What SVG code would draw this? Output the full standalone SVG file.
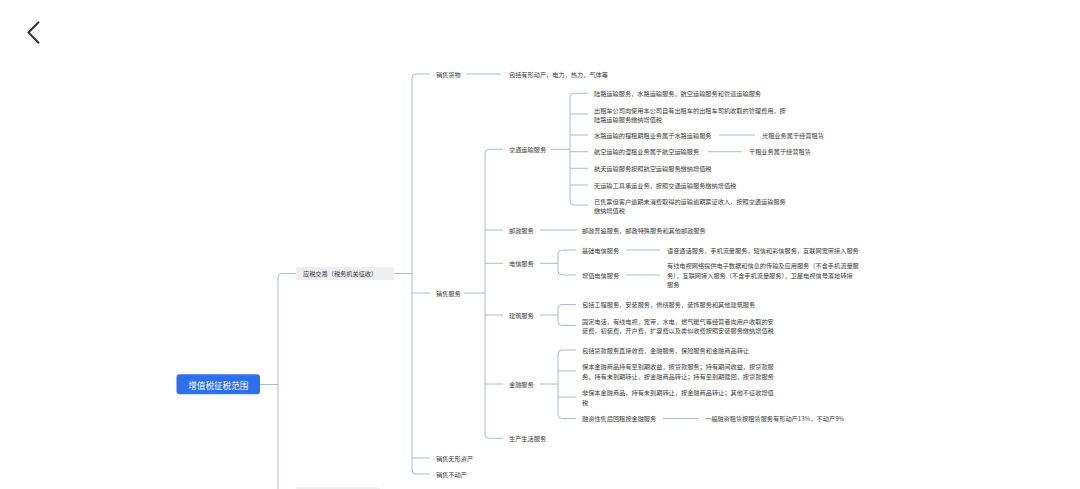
<svg xmlns="http://www.w3.org/2000/svg" width="1080" height="489" viewBox="0 0 1080 489">
<style>
.t{font-family:"Noto Sans CJK SC","Noto Sans",sans-serif;font-size:6.2px;fill:#3a3a3a;dominant-baseline:central}
.c{fill:none;stroke:#a9bccf;stroke-width:1}
.r{font-family:"Noto Sans CJK SC","Noto Sans",sans-serif;font-size:8.6px;fill:#ffffff;dominant-baseline:central;text-anchor:middle}
</style>
<rect width="1080" height="489" fill="#ffffff"/>
<polyline points="39,21.7 28.5,32.5 39,43.3" fill="none" stroke="#333333" stroke-width="2"/>
<g id="connectors">
<path class="c" d="M260,384.5 H278"/>
<path class="c" d="M296,273.5 H282 Q278,273.5 278,277.5 V495"/>
<path class="c" d="M394,273.5 H412"/>
<path class="c" d="M430,74 H416 Q412,74 412,78 V470 Q412,474 416,474 H430 M412,293 H430 M412,458 H430"/>
<path class="c" d="M466,74 H501"/>
<path class="c" d="M464,293 H485"/>
<path class="c" d="M503,149.3 H489 Q485,149.3 485,153.3 V434.3 Q485,438.3 489,438.3 H503 M485,230 H503 M485,263.3 H503 M485,315 H503 M485,384 H503"/>
<path class="c" d="M551,149.3 H570"/>
<path class="c" d="M588,93.3 H574 Q570,93.3 570,97.3 V201 Q570,205 574,205 H588 M570,114 H588 M570,135 H588 M570,151.7 H588 M570,168.3 H588 M570,185 H588"/>
<path class="c" d="M719,135 H755"/>
<path class="c" d="M708,151.7 H742"/>
<path class="c" d="M540,230 H577"/>
<path class="c" d="M540,263.3 H558"/>
<path class="c" d="M576,250 H562 Q558,250 558,254 V271 Q558,275 562,275 H576"/>
<path class="c" d="M626,250 H660"/>
<path class="c" d="M626,275 H660"/>
<path class="c" d="M540,315 H558"/>
<path class="c" d="M576,304.5 H562 Q558,304.5 558,308.5 V321.5 Q558,325.5 562,325.5 H576"/>
<path class="c" d="M540,384 H558"/>
<path class="c" d="M576,350 H562 Q558,350 558,354 V414.5 Q558,418.5 562,418.5 H576 M558,371 H576 M558,397 H576"/>
<path class="c" d="M663,418.5 H698"/>
</g>
<g id="root">
<rect x="176.5" y="374.3" width="83.5" height="20" rx="3" fill="#2e6fec"/>
<text class="r" x="218.3" y="384.5">增值税征税范围</text>
</g>
<g id="n-yingshui">
<rect x="296" y="267" width="98" height="13.3" rx="2" fill="#eceef1"/>
<text class="t" x="303" y="273.7">应税交易（税务机关征收）</text>
</g>
<g id="n-bottom">
<rect x="296" y="487.3" width="84" height="10" rx="2" fill="#eceef1"/>
</g>
<g id="n-huowu"><text class="t" x="436" y="74">销售货物</text></g>
<g id="n-huowu-d"><text class="t" x="509" y="74">包括有形动产，电力，热力，气体等</text></g>
<g id="n-fuwu"><text class="t" x="436" y="293">销售服务</text></g>
<g id="n-wuxing"><text class="t" x="436" y="458">销售无形资产</text></g>
<g id="n-budong"><text class="t" x="436" y="474">销售不动产</text></g>
<g id="n-jiaotong"><text class="t" x="509" y="149.3">交通运输服务</text></g>
<g id="n-jt1"><text class="t" x="594" y="93.3">陆路运输服务，水路运输服务，航空运输服务和管道运输服务</text></g>
<g id="n-jt2"><text class="t" x="594" y="110">出租车公司向使用本公司自有出租车的出租车司机收取的管理费用，按</text><text class="t" x="594" y="119">陆路运输服务缴纳增值税</text></g>
<g id="n-jt3"><text class="t" x="594" y="135">水路运输的程租期租业务属于水路运输服务</text></g>
<g id="n-jt3b"><text class="t" x="762" y="135">光租业务属于经营租赁</text></g>
<g id="n-jt4"><text class="t" x="594" y="151.7">航空运输的湿租业务属于航空运输服务</text></g>
<g id="n-jt4b"><text class="t" x="749" y="151.7">干租业务属于经营租赁</text></g>
<g id="n-jt5"><text class="t" x="594" y="168.3">航天运输服务按照航空运输服务缴纳增值税</text></g>
<g id="n-jt6"><text class="t" x="594" y="185">无运输工具承运业务，按照交通运输服务缴纳增值税</text></g>
<g id="n-jt7"><text class="t" x="594" y="201">已售票但客户逾期未消费取得的运输逾期票证收入，按照交通运输服务</text><text class="t" x="594" y="210">缴纳增值税</text></g>
<g id="n-youzheng"><text class="t" x="509" y="230">邮政服务</text></g>
<g id="n-yz1"><text class="t" x="582" y="230">邮政普遍服务，邮政特殊服务和其他邮政服务</text></g>
<g id="n-dianxin"><text class="t" x="509" y="263.3">电信服务</text></g>
<g id="n-jichu"><text class="t" x="582" y="250">基础电信服务</text></g>
<g id="n-jichu-d"><text class="t" x="667" y="250">语音通话服务，手机流量服务，短信和彩信服务，互联网宽带接入服务</text></g>
<g id="n-zengzhi"><text class="t" x="582" y="275">增值电信服务</text></g>
<g id="n-zengzhi-d"><text class="t" x="667" y="265.5">有线电视网络提供电子数据和信息的传输及应用服务（不含手机流量服</text><text class="t" x="667" y="275">务），互联网接入服务（不含手机流量服务），卫星电视信号落地转接</text><text class="t" x="667" y="284.5">服务</text></g>
<g id="n-jianzhu"><text class="t" x="509" y="315">建筑服务</text></g>
<g id="n-jz1"><text class="t" x="582" y="304.5">包括工程服务，安装服务，修缮服务，装饰服务和其他建筑服务</text></g>
<g id="n-jz2"><text class="t" x="582" y="321">固定电话，有线电视，宽带，水电，燃气暖气等经营者向用户收取的安</text><text class="t" x="582" y="330.5">装费，初装费，开户费，扩容费以及类似收费按照安装服务缴纳增值税</text></g>
<g id="n-jinrong"><text class="t" x="509" y="384">金融服务</text></g>
<g id="n-jr1"><text class="t" x="582" y="350">包括贷款服务直接收费，金融服务，保险服务和金融商品转让</text></g>
<g id="n-jr2"><text class="t" x="582" y="366.5">保本金融商品持有至到期收益，按贷款服务；持有期间收益，按贷款服</text><text class="t" x="582" y="376">务，持有未到期转让，按金融商品转让；持有至到期赎回，按贷款服务</text></g>
<g id="n-jr3"><text class="t" x="582" y="392.5">非保本金融商品，持有未到期转让，按金融商品转让；其他不征收增值</text><text class="t" x="582" y="402">税</text></g>
<g id="n-jr4"><text class="t" x="582" y="418.5">融资性售后回租按金融服务</text></g>
<g id="n-jr4b"><text class="t" x="705" y="418.5">一般融资租赁按租赁服务有形动产13%，不动产9%</text></g>
<g id="n-shengchan"><text class="t" x="509" y="438.3">生产生活服务</text></g>
</svg>
